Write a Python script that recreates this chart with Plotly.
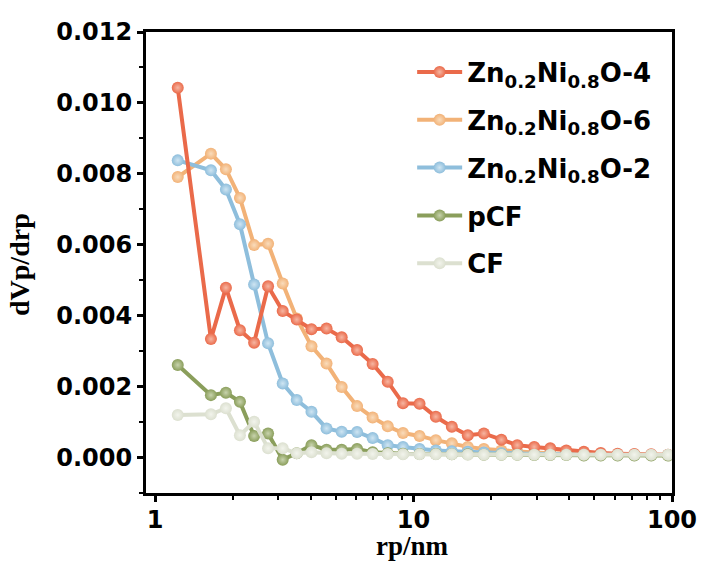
import plotly.graph_objects as go

# pore radius (nm)
rp = [1.224, 1.645, 1.88, 2.13, 2.417, 2.737, 3.118, 3.533, 4.029, 4.607, 5.273,
      6.048, 6.946, 7.947, 9.103, 10.55, 12.2, 14.07, 16.22, 18.71, 21.87, 25.2,
      29.3, 33.8, 39.0, 45.6, 53.0, 61.6, 71.5, 83.1, 96.5]

zn4 = [0.01043, 0.00334, 0.00479, 0.00359, 0.00324, 0.00483, 0.00413, 0.00389, 0.00362,
       0.00364, 0.00339, 0.00303, 0.00264, 0.00214, 0.00153, 0.00152, 0.00115, 0.00087,
       0.00063, 0.00068, 0.00050, 0.00035, 0.00030, 0.00026, 0.00020, 0.00016, 0.00013,
       0.00011, 0.00010, 0.00009, 0.00008]

zn6 = [0.00791, 0.00857, 0.00813, 0.00732, 0.00599, 0.00603, 0.00491, 0.00392, 0.00314,
       0.00265, 0.00199, 0.00145, 0.00113, 0.00088, 0.00069, 0.00061, 0.00049, 0.00040,
       0.00030, 0.00024, 0.00020, 0.00016, 0.00014, 0.00012, 0.00011, 0.00010, 0.00009,
       0.00008, 0.00008, 0.00007, 0.00007]

zn2 = [0.00838, 0.00810, 0.00756, 0.00658, 0.00488, 0.00322, 0.00209, 0.00162, 0.00129,
       0.00082, 0.00073, 0.00072, 0.00055, 0.00035, 0.00030, 0.00024, 0.00020, 0.00018,
       0.00016, 0.00014, 0.00012, 0.00011, 0.00010, 0.00010, 0.00009, 0.00008, 0.00008,
       0.00007, 0.00007, 0.00007, 0.00007]

pcf = [0.00261, 0.00176, 0.00183, 0.00157, 0.00061, 0.00068, -0.00006, 0.00012, 0.00035,
       0.00022, 0.00022, 0.00024, 0.00015, 0.00012, 0.00011, 0.00010, 0.00010, 0.00009,
       0.00009, 0.00008, 0.00008, 0.00008, 0.00007, 0.00007, 0.00007, 0.00006, 0.00006,
       0.00006, 0.00006, 0.00006, 0.00006]

cf = [0.00120, 0.00122, 0.00139, 0.00063, 0.00101, 0.00026, 0.00026, 0.00012, 0.00015,
      0.00012, 0.00011, 0.00011, 0.00010, 0.00010, 0.00009, 0.00009, 0.00009, 0.00009,
      0.00008, 0.00008, 0.00008, 0.00008, 0.00008, 0.00008, 0.00008, 0.00008, 0.00008,
      0.00008, 0.00008, 0.00008, 0.00008]

names = ["<b>Zn<sub>0.2</sub>Ni<sub>0.8</sub>O-4</b>", "<b>Zn<sub>0.2</sub>Ni<sub>0.8</sub>O-6</b>",
         "<b>Zn<sub>0.2</sub>Ni<sub>0.8</sub>O-2</b>", "<b>pCF</b>", "<b>CF</b>"]
colors = ["#EA6A4A", "#F2B277", "#8EBEDC", "#8A9E5B", "#DCE0D0"]
highlights = ["#F6B6A2", "#F9DCBC", "#CFE5F2", "#C8D3AD", "#F2F4EC"]
series = [zn4, zn6, zn2, pcf, cf]

# drawing order (bottom -> top)
draw_order = [1, 2, 0, 3, 4]

fig = go.Figure()
for i in draw_order:
    fig.add_trace(go.Scatter(
        x=rp, y=series[i], name=names[i], mode="lines+markers",
        legendgroup=str(i), legendrank=i + 1,
        line=dict(color=colors[i], width=4),
        marker=dict(size=12, color=colors[i], symbol="circle",
                    gradient=dict(type="radial", color=highlights[i]),
                    line=dict(width=0)),
    ))

fig.update_layout(
    width=702, height=563,
    margin=dict(l=146, r=30, t=32, b=70),
    plot_bgcolor="white", paper_bgcolor="white",
    showlegend=True,
    legend=dict(x=0.506, y=0.964, xanchor="left", yanchor="top",
                traceorder="grouped", tracegroupgap=11,
                font=dict(family="DejaVu Sans", size=26, color="black"),
                bgcolor="rgba(0,0,0,0)", itemwidth=45),
    font=dict(family="DejaVu Sans", color="black"),
    annotations=[
        dict(text="<b>dVp/drp</b>", xref="paper", yref="paper", x=-0.2395, y=0.4946,
             textangle=-90, showarrow=False, xanchor="center", yanchor="middle",
             font=dict(family="Liberation Serif", size=28, color="black")),
        dict(text="<b>rp/nm</b>", xref="paper", yref="paper", x=0.506, y=-0.116,
             showarrow=False, xanchor="center", yanchor="middle",
             font=dict(family="Liberation Serif", size=27, color="black")),
    ],
)

fig.update_xaxes(
    type="log", range=[-0.035, 2.0], automargin=False,
    tickvals=[1, 10, 100], ticktext=["<b>1</b>", "<b>10</b>", "<b>100</b>"],
    ticks="outside", ticklen=6, tickwidth=3, tickcolor="black",
    minor=dict(ticks="outside", ticklen=4, tickwidth=2, tickcolor="black", dtick="D1"),
    showline=True, linecolor="black", linewidth=3, mirror=True,
    showgrid=False, zeroline=False, ticklabelstandoff=-3,
    tickfont=dict(family="DejaVu Sans", size=24, color="black"),
)

fig.update_yaxes(
    range=[-0.001, 0.012], automargin=False,
    tickvals=[0.0, 0.002, 0.004, 0.006, 0.008, 0.010, 0.012],
    ticktext=["<b>0.000</b>", "<b>0.002</b>", "<b>0.004</b>", "<b>0.006</b>",
              "<b>0.008</b>", "<b>0.010</b>", "<b>0.012</b>"],
    ticks="outside", ticklen=6, tickwidth=3, tickcolor="black",
    minor=dict(ticks="outside", ticklen=4, tickwidth=2, tickcolor="black", dtick=0.001),
    showline=True, linecolor="black", linewidth=3, mirror=True,
    showgrid=False, zeroline=False,
    tickfont=dict(family="DejaVu Sans", size=24, color="black"),
)

fig.write_html("out.html", config={"displayModeBar": False},
               post_script="document.body.style.margin='0';document.body.style.overflow='hidden';")
